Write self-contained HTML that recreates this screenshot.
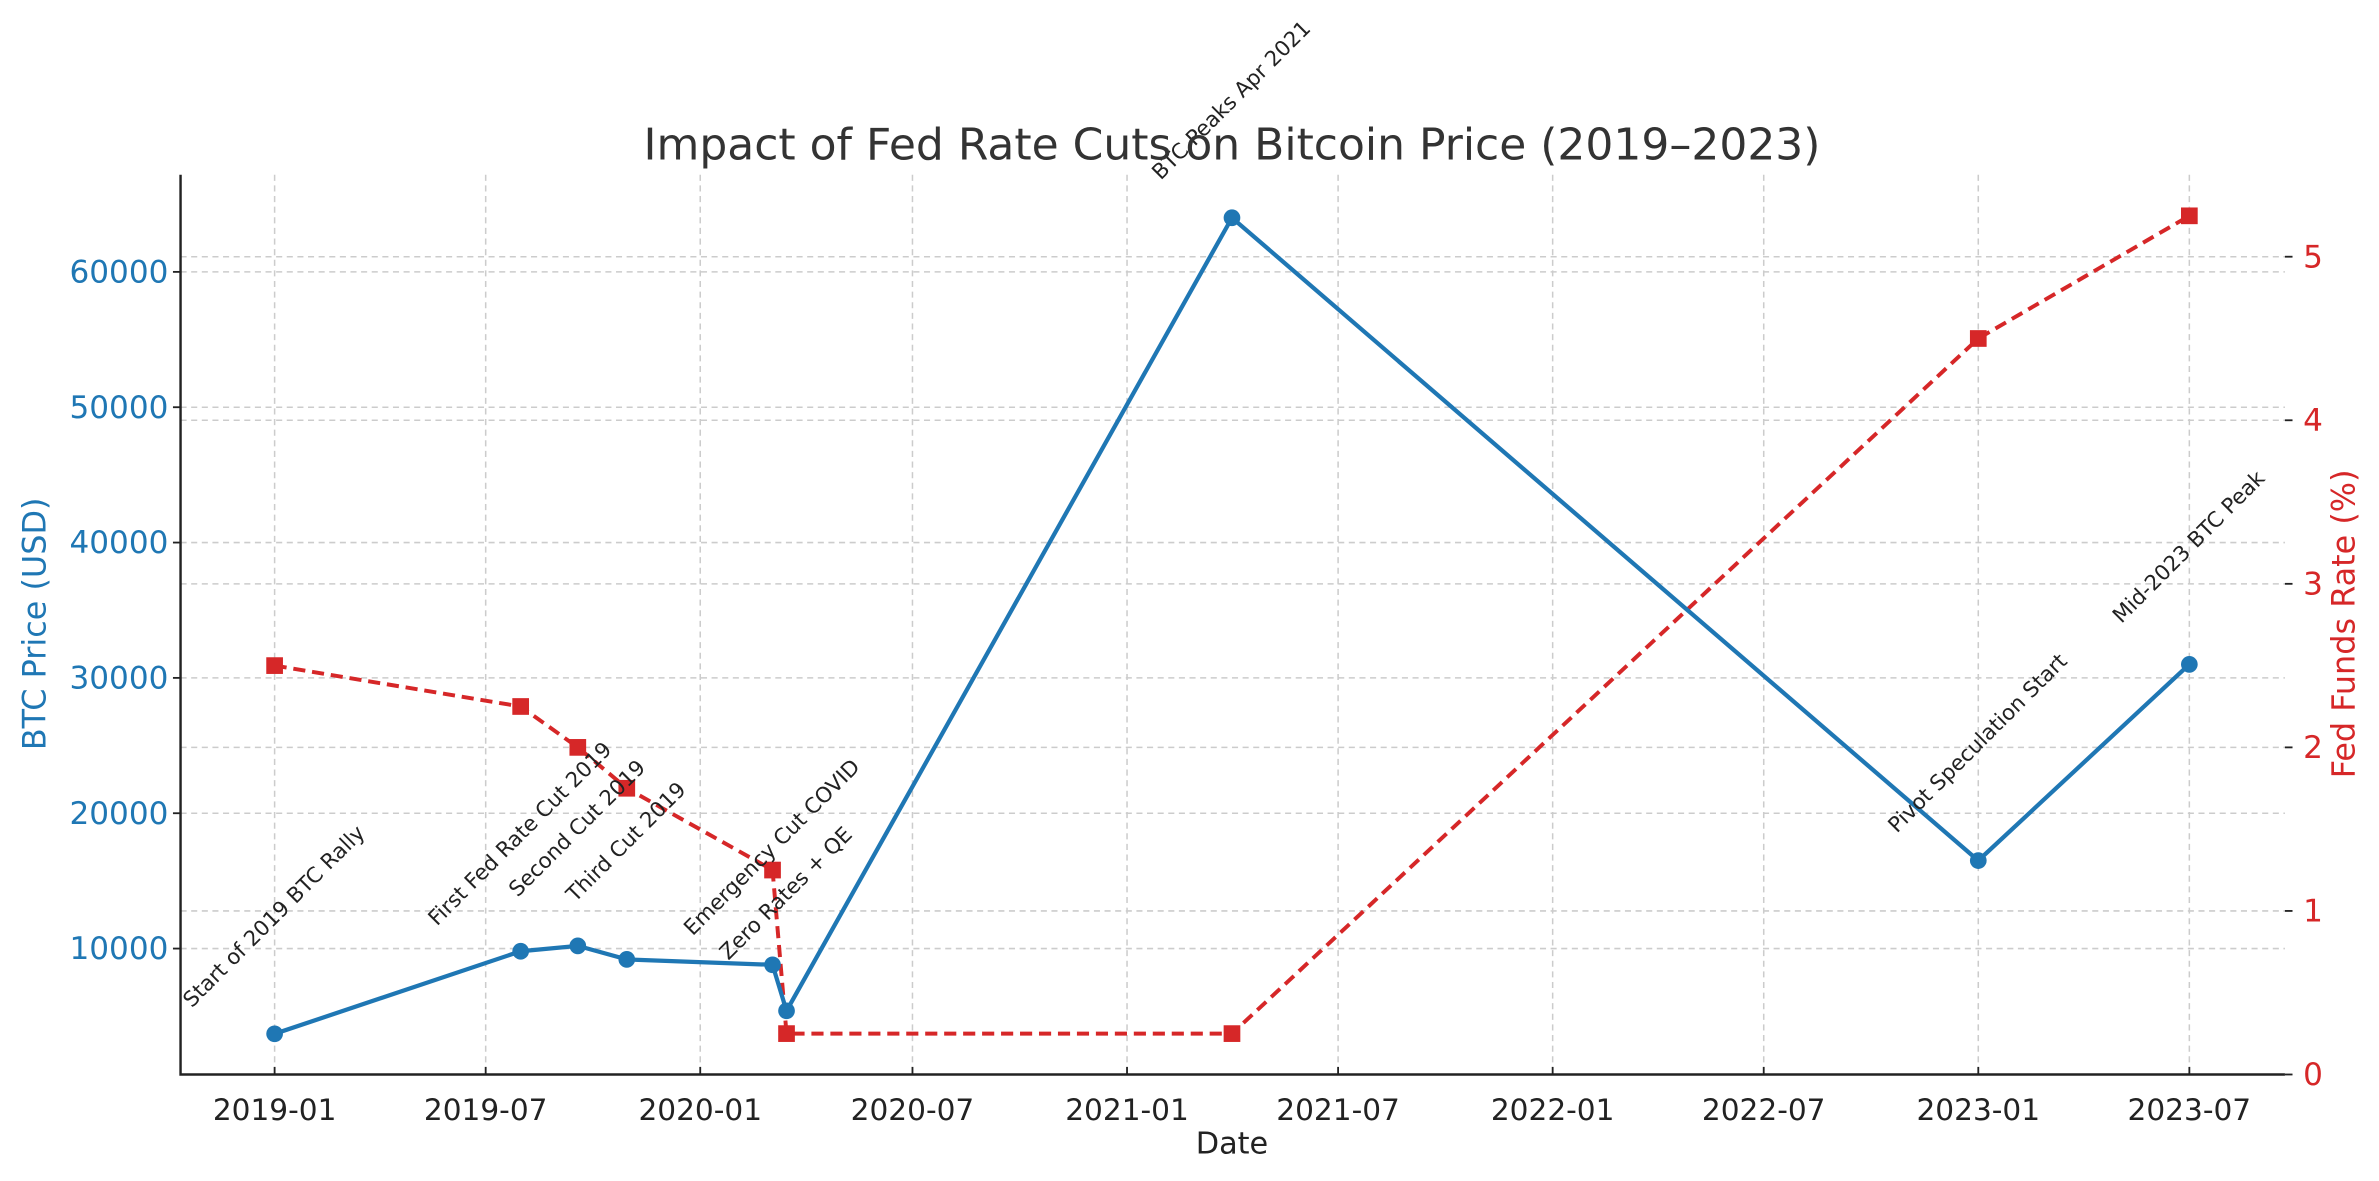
<!DOCTYPE html>
<html><head><meta charset="utf-8">
<style>
html,body{margin:0;padding:0;background:#fff;}
svg{display:block;font-family:"DejaVu Sans","Liberation Sans",sans-serif;}
</style></head>
<body>
<svg id="chart" width="2379" height="1181" viewBox="0 0 1568 778" xmlns="http://www.w3.org/2000/svg">
<rect width="1568" height="778" fill="#fff"/>
<g id="grid"></g>
<g id="series"></g>
<g id="axes"></g>
<g id="ann"></g>
<text x="812" y="105" text-anchor="middle" font-size="29" fill="#333">Impact of Fed Rate Cuts on Bitcoin Price (2019–2023)</text>
<text x="812" y="760" text-anchor="middle" font-size="20" fill="#222">Date</text>
<text transform="translate(30,411) rotate(-90)" text-anchor="middle" font-size="21" fill="#1f77b4">BTC Price (USD)</text>
<text transform="translate(1552,411) rotate(-90)" text-anchor="middle" font-size="21" fill="#d62728">Fed Funds Rate (%)</text>
</svg>
<script>
const dates = ["2019-01-01","2019-07-31","2019-09-18","2019-10-30","2020-03-03","2020-03-15","2021-04-01","2023-01-01","2023-07-01"];
const btcPrices = [3700,9800,10200,9200,8800,5400,64000,16500,31000];
const fedRates = [2.5,2.25,2.0,1.75,1.25,0.25,0.25,4.5,5.25];
const eventLabels = ["Start of 2019 BTC Rally","First Fed Rate Cut 2019","Second Cut 2019","Third Cut 2019","Emergency Cut COVID","Zero Rates + QE","BTC Peaks Apr 2021","Pivot Speculation Start","Mid-2023 BTC Peak"];
const xTickLabels = ["2019-01","2019-07","2020-01","2020-07","2021-01","2021-07","2022-01","2022-07","2023-01","2023-07"];
const leftTicks = [10000,20000,30000,40000,50000,60000];
const rightTicks = [0,1,2,3,4,5];

const NS="http://www.w3.org/2000/svg";
const L=119,R=1506,T=115,B=708;
const d0=Date.parse("2019-01-01"),d1=Date.parse("2023-07-01");
function xs(d){return 181+(Date.parse(d)-d0)/(d1-d0)*(1443-181);}
function yl(v){return 714.2-v*0.00892;}
function yr(v){return 708-v*107.8;}
function mk(tag,attrs,parent,txt){const e=document.createElementNS(NS,tag);for(const k in attrs)e.setAttribute(k,attrs[k]);if(txt!==undefined)e.textContent=txt;parent.appendChild(e);return e;}
const grid=document.getElementById('grid'),series=document.getElementById('series'),axes=document.getElementById('axes'),ann=document.getElementById('ann');

xTickLabels.forEach(t=>{const x=xs(t+"-01");
 const g=mk('line',{x1:x,x2:x,y1:T,y2:B,stroke:'#ccc','stroke-width':1,'stroke-dasharray':'4,3'},grid);
 
 
 const tk=mk('line',{x1:x,x2:x,y1:B,y2:B-5,stroke:'#222','stroke-width':1.2},axes);
 
 
 const lb=mk('text',{x:x,y:B+30,'text-anchor':'middle','font-size':19.5,fill:'#222'},axes,t);
 
 
});
leftTicks.forEach(v=>{const y=yl(v);
 const g=mk('line',{x1:L,x2:R,y1:y,y2:y,stroke:'#ccc','stroke-width':1,'stroke-dasharray':'4,3'},grid);
 
 
 const tk=mk('line',{x1:L-5,x2:L,y1:y,y2:y,stroke:'#222','stroke-width':1.2},axes);
 
 
 const lb=mk('text',{x:L-8,y:y+7,'text-anchor':'end','font-size':20.5,fill:'#1f77b4'},axes,String(v));
 
 
});
rightTicks.forEach(v=>{const y=yr(v);
 if(v>0){const g=mk('line',{x1:L,x2:R,y1:y,y2:y,stroke:'#ccc','stroke-width':1,'stroke-dasharray':'4,3'},grid);
 
 }
 const tk=mk('line',{x1:R,x2:R+5,y1:y,y2:y,stroke:'#222','stroke-width':1.2},axes);
 
 
 const lb=mk('text',{x:R+12,y:y+7,'font-size':20.5,fill:'#d62728'},axes,String(v));
 
 
});
const ax=mk('path',{d:`M${L},${T} L${L},${B} L${R},${B}`,fill:'none',stroke:'#222','stroke-width':1.6},axes);



const rp=mk('polyline',{points:dates.map((d,i)=>xs(d)+','+yr(fedRates[i])).join(' '),fill:'none',stroke:'#d62728','stroke-width':2.6,'stroke-dasharray':'8,4.5'},series);


dates.forEach((d,i)=>{const m=mk('rect',{x:xs(d)-5.5,y:yr(fedRates[i])-5.5,width:11,height:11,fill:'#d62728'},series);
 
 });
const bp=mk('polyline',{points:dates.map((d,i)=>xs(d)+','+yl(btcPrices[i])).join(' '),fill:'none',stroke:'#1f77b4','stroke-width':2.8},series);


dates.forEach((d,i)=>{const m=mk('circle',{cx:xs(d),cy:yl(btcPrices[i]),r:5.5,fill:'#1f77b4'},series);
 
 });
eventLabels.forEach((t,i)=>{const x=xs(dates[i]),y=yl(btcPrices[i])-77;
 const a=mk('text',{x:0,y:4,transform:`translate(${x},${y}) rotate(-45)`,'text-anchor':'middle','font-size':14,fill:'#222'},ann,t);
 
 });
</script>
</body></html>
